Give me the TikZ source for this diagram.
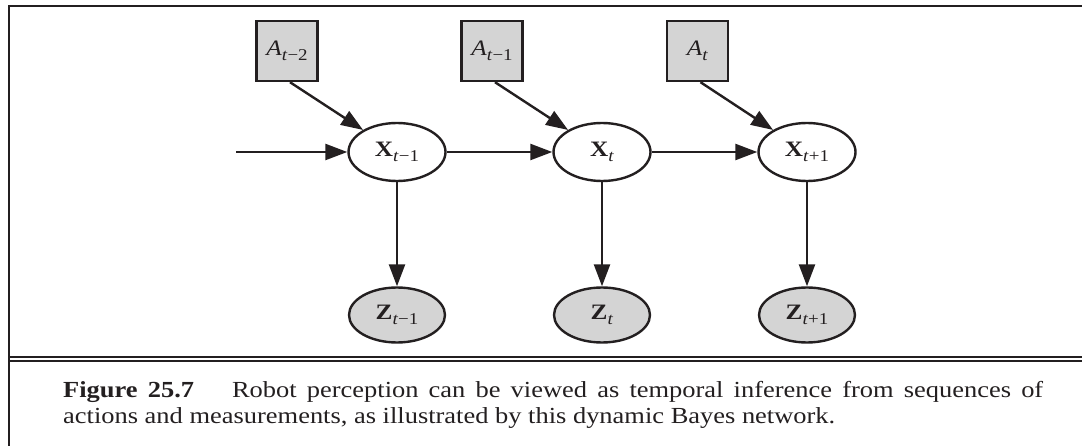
\documentclass[tikz,border=0pt]{standalone}
\usepackage{fontspec}
\setmainfont{Liberation Serif}[FakeStretch=1.15]
\usetikzlibrary{shapes.geometric,arrows.meta}
\definecolor{ink}{RGB}{35,31,32}
\definecolor{shade}{RGB}{212,212,212}
\newcommand\lbsub[1]{\raisebox{-5.5pt}{\fontsize{16.5}{16}\selectfont #1}}
\begin{document}
\begin{tikzpicture}[x=1pt,y=-1pt,
  every node/.style={text=ink},
  lbl/.style={font=\fontsize{22}{24}\selectfont},
  actbox/.style={lbl, draw=ink, line width=2.4pt, fill=shade, rectangle, minimum width=61pt, minimum height=60pt, inner sep=0pt},
  statenode/.style={lbl, draw=ink, line width=2.4pt, fill=white, ellipse, minimum width=97pt, minimum height=58pt, inner sep=0pt},
  obsnode/.style={lbl, draw=ink, line width=2.4pt, fill=shade, ellipse, minimum width=96pt, minimum height=55pt, inner sep=0pt},
  edge/.style={draw=ink, line width=2.4pt, -{Triangle[length=22pt,width=16pt]}},
  capline/.style={font=\fontsize{23}{26}\selectfont, anchor=base west, inner sep=0pt},
  frame/.style={draw=ink, line width=2.2pt}]
\useasboundingbox (0,0) rectangle (1082,446);
% frame
\draw[frame] (1082,6) -- (9,6) -- (9,446);
\draw[draw=ink, line width=2pt] (9,357.5) -- (1082,357.5);
\draw[draw=ink, line width=2pt] (9,361) -- (1082,361);
% nodes
\node[actbox] (A1) at (287,51) {\textit{A}\lbsub{\textit{t}−2}};
\node[actbox] (A2) at (492,51) {\textit{A}\lbsub{\textit{t}−1}};
\node[actbox] (A3) at (697.5,51) {\textit{A}\lbsub{\textit{t}}};
\node[statenode] (X1) at (397,152) {\textbf{X}\lbsub{\textit{t}−1}};
\node[statenode] (X2) at (602,152) {\textbf{X}\lbsub{\textit{t}}};
\node[statenode] (X3) at (807,152) {\textbf{X}\lbsub{\textit{t}+1}};
\node[obsnode] (Z1) at (397,315) {\textbf{Z}\lbsub{\textit{t}−1}};
\node[obsnode] (Z2) at (602,315) {\textbf{Z}\lbsub{\textit{t}}};
\node[obsnode] (Z3) at (807,315) {\textbf{Z}\lbsub{\textit{t}+1}};
\coordinate (in) at (236,152);
% edges
\draw[edge] (in) -- (X1.west);
\draw[edge] (X1.east) -- (X2.west);
\draw[edge] (X2.east) -- (X3.west);
\draw[edge] ([xshift=3pt]A1.south) -- (X1.147);
\draw[edge] ([xshift=3pt]A2.south) -- (X2.147);
\draw[edge] ([xshift=3pt]A3.south) -- (X3.147);
\draw[edge] (X1.south) -- (Z1.north);
\draw[edge] (X2.south) -- (Z2.north);
\draw[edge] (X3.south) -- (Z3.north);
% caption
\node[capline] (cap1) at (63,397) {\makebox[980pt][s]{\textbf{Figure 25.7}\hspace*{38pt}Robot perception can be viewed as temporal inference from sequences of}};
\node[capline] (cap2) at (63,423) {actions and measurements, as illustrated by this dynamic Bayes network.};
\end{tikzpicture}
\end{document}
